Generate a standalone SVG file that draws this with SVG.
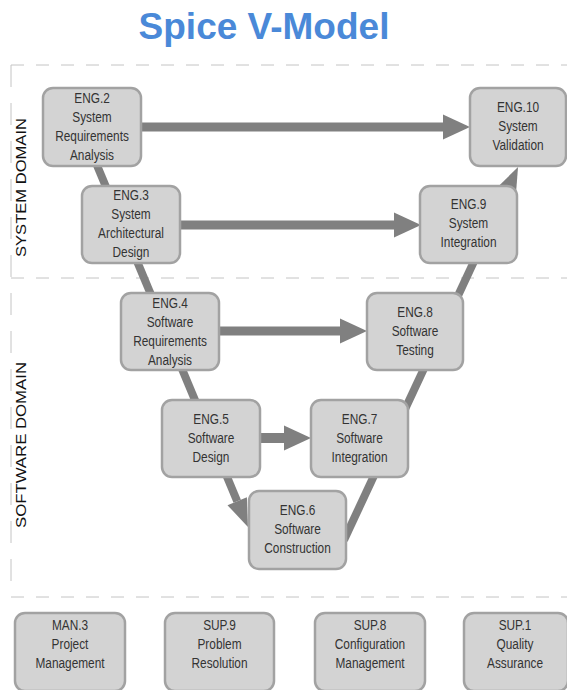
<svg xmlns="http://www.w3.org/2000/svg" width="567" height="690" viewBox="0 0 567 690">
<style>
.frame{fill:none;stroke:#c4c4c4;stroke-width:1}
.hd{stroke-dasharray:13 12}
.vd{stroke-dasharray:22 16}
.box{fill:#d3d3d3;stroke:#a2a2a2;stroke-width:2.5}
.t{font-family:"Liberation Sans",Arial,sans-serif;font-size:15px;fill:#333;text-anchor:middle}
.dom{font-family:"Liberation Sans",Arial,sans-serif;font-size:15px;fill:#111;text-anchor:middle}
.title{font-family:"Liberation Sans",Arial,sans-serif;font-size:37px;font-weight:bold;fill:#4a89d8;text-anchor:middle}
.shaft{stroke:#808080;fill:none;stroke-linecap:butt}
</style>
<defs>
<marker id="ah" markerUnits="userSpaceOnUse" markerWidth="30" markerHeight="30" refX="0" refY="0" orient="auto" overflow="visible"><path d="M0,-12.5 L27,0 L0,12.5 Z" fill="#808080"/></marker>
<marker id="ahd" markerUnits="userSpaceOnUse" markerWidth="30" markerHeight="30" refX="0" refY="0" orient="auto" overflow="visible"><path d="M0,-10.5 L28,0 L0,10.5 Z" fill="#808080"/></marker>
</defs>
<rect width="567" height="690" fill="#ffffff"/>
<text class="title" x="264" y="38.5">Spice V-Model</text>
<g id="frame">
<path class="frame hd" d="M11,65 H567"/>
<path class="frame hd" d="M11,278 H567"/>
<path class="frame hd" d="M11,597 H567"/>
<path class="frame vd" d="M11,65 V597"/>
</g>
<text class="dom" transform="translate(26 187.5) rotate(-90)" textLength="139" lengthAdjust="spacingAndGlyphs">SYSTEM DOMAIN</text>
<text class="dom" transform="translate(26 445) rotate(-90)" textLength="166" lengthAdjust="spacingAndGlyphs">SOFTWARE DOMAIN</text>
<g id="connectors">
<path class="shaft" stroke-width="8" d="M81,127 L237.2,501.2" marker-end="url(#ahd)"/>
<path class="shaft" stroke-width="8" d="M344,540 L506.2,192.4" marker-end="url(#ahd)"/>
<path class="shaft" stroke-width="9" d="M141,127 H443" marker-end="url(#ah)"/>
<path class="shaft" stroke-width="9" d="M180,225 H394" marker-end="url(#ah)"/>
<path class="shaft" stroke-width="9" d="M219,331 H340" marker-end="url(#ah)"/>
<path class="shaft" stroke-width="10" d="M260,438 H284" marker-end="url(#ah)"/>
</g>
<g id="eng2"><rect class="box" x="43" y="88" width="98" height="78" rx="10"/>
<text class="t" transform="translate(92 0) scale(0.79 1)"><tspan x="0" y="103">ENG.2</tspan><tspan x="0" y="122">System</tspan><tspan x="0" y="141">Requirements</tspan><tspan x="0" y="160">Analysis</tspan></text></g>
<g id="eng10"><rect class="box" x="470" y="88" width="96" height="78" rx="10"/>
<text class="t" transform="translate(518 0) scale(0.79 1)"><tspan x="0" y="112">ENG.10</tspan><tspan x="0" y="131">System</tspan><tspan x="0" y="150">Validation</tspan></text></g>
<g id="eng3"><rect class="box" x="82" y="186" width="98" height="77" rx="10"/>
<text class="t" transform="translate(131 0) scale(0.79 1)"><tspan x="0" y="200">ENG.3</tspan><tspan x="0" y="219.5">System</tspan><tspan x="0" y="238.5">Architectural</tspan><tspan x="0" y="257.5">Design</tspan></text></g>
<g id="eng9"><rect class="box" x="420" y="186" width="97" height="77" rx="10"/>
<text class="t" transform="translate(468.5 0) scale(0.79 1)"><tspan x="0" y="209">ENG.9</tspan><tspan x="0" y="228">System</tspan><tspan x="0" y="247">Integration</tspan></text></g>
<g id="eng4"><rect class="box" x="121" y="293" width="98" height="77" rx="10"/>
<text class="t" transform="translate(170 0) scale(0.79 1)"><tspan x="0" y="308">ENG.4</tspan><tspan x="0" y="327">Software</tspan><tspan x="0" y="346">Requirements</tspan><tspan x="0" y="365">Analysis</tspan></text></g>
<g id="eng8"><rect class="box" x="367" y="293" width="96" height="77" rx="10"/>
<text class="t" transform="translate(415 0) scale(0.79 1)"><tspan x="0" y="317.5">ENG.8</tspan><tspan x="0" y="336.5">Software</tspan><tspan x="0" y="355.5">Testing</tspan></text></g>
<g id="eng5"><rect class="box" x="162" y="400" width="98" height="77" rx="10"/>
<text class="t" transform="translate(211 0) scale(0.79 1)"><tspan x="0" y="424">ENG.5</tspan><tspan x="0" y="443">Software</tspan><tspan x="0" y="462">Design</tspan></text></g>
<g id="eng7"><rect class="box" x="311" y="400" width="97" height="77" rx="10"/>
<text class="t" transform="translate(359.5 0) scale(0.79 1)"><tspan x="0" y="424">ENG.7</tspan><tspan x="0" y="443">Software</tspan><tspan x="0" y="462">Integration</tspan></text></g>
<g id="eng6"><rect class="box" x="249" y="491" width="97" height="78" rx="10"/>
<text class="t" transform="translate(297.5 0) scale(0.79 1)"><tspan x="0" y="515">ENG.6</tspan><tspan x="0" y="534">Software</tspan><tspan x="0" y="553">Construction</tspan></text></g>
<g id="man3"><rect class="box" x="15" y="613" width="110" height="78" rx="10"/>
<text class="t" transform="translate(70 0) scale(0.79 1)"><tspan x="0" y="630">MAN.3</tspan><tspan x="0" y="649">Project</tspan><tspan x="0" y="668">Management</tspan></text></g>
<g id="sup9"><rect class="box" x="165" y="613" width="109" height="78" rx="10"/>
<text class="t" transform="translate(219.5 0) scale(0.79 1)"><tspan x="0" y="630">SUP.9</tspan><tspan x="0" y="649">Problem</tspan><tspan x="0" y="668">Resolution</tspan></text></g>
<g id="sup8"><rect class="box" x="315" y="613" width="110" height="78" rx="10"/>
<text class="t" transform="translate(370 0) scale(0.79 1)"><tspan x="0" y="630">SUP.8</tspan><tspan x="0" y="649">Configuration</tspan><tspan x="0" y="668">Management</tspan></text></g>
<g id="sup1"><rect class="box" x="464" y="613" width="104" height="78" rx="10"/>
<text class="t" transform="translate(515 0) scale(0.79 1)"><tspan x="0" y="630">SUP.1</tspan><tspan x="0" y="649">Quality</tspan><tspan x="0" y="668">Assurance</tspan></text></g>
</svg>
